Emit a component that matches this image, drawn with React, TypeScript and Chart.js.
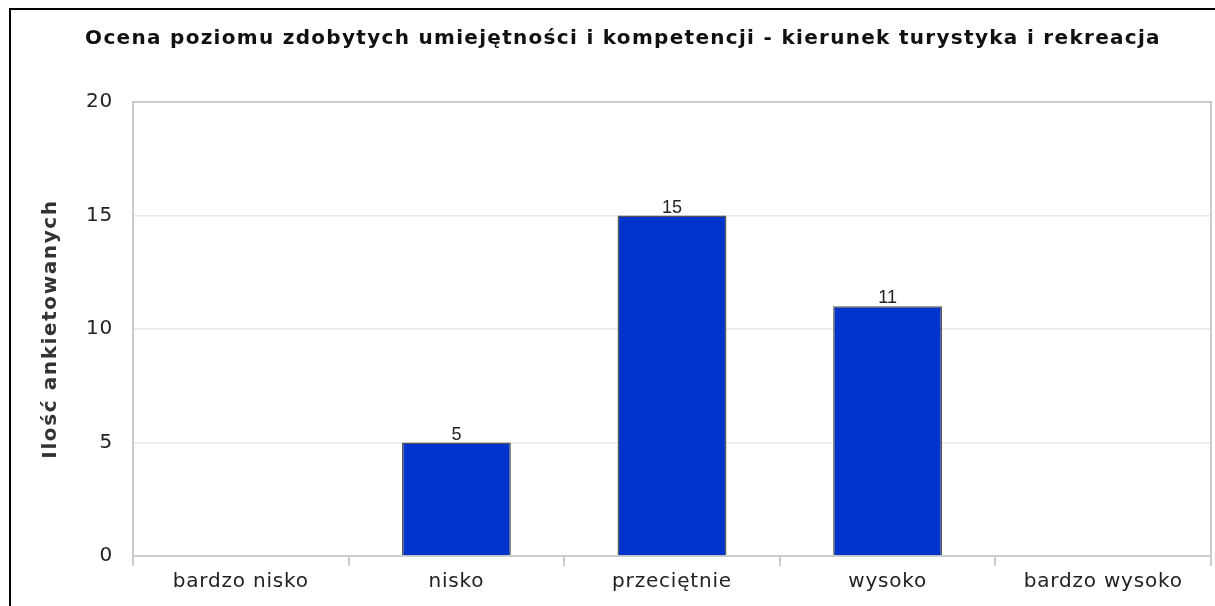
import { useEffect, useRef } from "react";
import { Chart, registerables } from "chart.js";

Chart.register(...registerables);

const chartTitle =
  "Ocena poziomu zdobytych umiejętności i kompetencji - kierunek turystyka i rekreacja";
const yAxisTitle = "Ilość ankietowanych";
const categories = ["bardzo nisko", "nisko", "przeciętnie", "wysoko", "bardzo wysoko"];
const counts = [0, 5, 15, 11, 0];
const yTicks = [0, 5, 10, 15, 20];

const CANVAS_W = 1204;
const CANVAS_H = 596;

const decorations = {
  id: "decorations",
  beforeDraw(chart: any) {
    chart.ctx.letterSpacing = "0.8px";
  },
  beforeDatasetsDraw(chart: any) {
    const { ctx, chartArea: a } = chart;
    ctx.save();
    ctx.strokeStyle = "#cccccc";
    ctx.lineWidth = 2;
    ctx.strokeRect(a.left, a.top, a.right - a.left, a.bottom - a.top);
    ctx.restore();
  },
  afterDraw(chart: any) {
    const { ctx, chartArea: a } = chart;
    ctx.save();
    // chart title
    ctx.letterSpacing = "1.3px";
    ctx.fillStyle = "#111111";
    ctx.font = "bold 20px 'DejaVu Sans'";
    ctx.textAlign = "center";
    ctx.textBaseline = "alphabetic";
    ctx.fillText(chartTitle, chart.width / 2 + 10, 33.5);
    // y axis title
    ctx.save();
    ctx.letterSpacing = "1.6px";
    ctx.font = "bold 20px 'DejaVu Sans'";
    ctx.fillStyle = "#333333";
    ctx.translate(40, (a.top + a.bottom) / 2);
    ctx.rotate(-Math.PI / 2);
    ctx.textBaseline = "middle";
    ctx.fillText(yAxisTitle, 0, 0);
    ctx.restore();
    // data labels
    ctx.letterSpacing = "0px";
    ctx.font = "18px 'Liberation Sans'";
    ctx.fillStyle = "#222222";
    ctx.textAlign = "center";
    ctx.textBaseline = "alphabetic";
    const meta = chart.getDatasetMeta(0);
    meta.data.forEach((bar: any, i: number) => {
      const v = counts[i];
      if (v > 0) ctx.fillText(String(v), bar.x, bar.y - 3);
    });
    ctx.restore();
  },
};

export default function App() {
  const ref = useRef<HTMLCanvasElement>(null);
  useEffect(() => {
    if (!ref.current) return;
    const chart = new Chart(ref.current, {
      type: "bar",
      data: {
        labels: categories,
        datasets: [
          {
            data: counts,
            backgroundColor: "#0033cc",
            borderColor: "#555555",
            borderWidth: 1.5,
            barPercentage: 1,
            categoryPercentage: 0.505,
          },
        ],
      },
      options: {
        responsive: false,
        animation: false,
        layout: { padding: { left: 0, right: 4, top: 92, bottom: 0 } },
        plugins: {
          legend: { display: false },
          title: { display: false },
          tooltip: { enabled: false },
        },
        scales: {
          x: {
            offset: true,
            grid: {
              offset: true,
              drawOnChartArea: false,
              drawTicks: true,
              tickLength: 10,
              color: "#cccccc",
              lineWidth: 2,
            },
            border: { display: true, color: "#cccccc", width: 2 },
            ticks: {
              font: { family: "'DejaVu Sans'", size: 20 },
              color: "#222222",
              padding: 4,
              maxRotation: 0,
              autoSkip: false,
            },
            afterFit(scale: any) {
              scale.height = 50;
            },
          },
          y: {
            min: yTicks[0],
            max: yTicks[yTicks.length - 1],
            ticks: {
              stepSize: yTicks[1] - yTicks[0],
              font: { family: "'DejaVu Sans'", size: 20 },
              color: "#222222",
              padding: 20,
            },
            grid: {
              drawTicks: false,
              color: "#e8e8e8",
              lineWidth: 1.5,
            },
            border: { display: true, color: "#cccccc", width: 2 },
            afterFit(scale: any) {
              scale.width = 122;
            },
          },
        },
      },
      plugins: [decorations],
    });
    return () => chart.destroy();
  }, []);

  return (
    <div
      style={{
        position: "fixed",
        left: 9,
        top: 8,
        width: CANVAS_W,
        height: CANVAS_H,
        borderTop: "2px solid #000",
        borderLeft: "2px solid #000",
        background: "#fff",
        overflow: "hidden",
      }}
    >
      <canvas ref={ref} width={CANVAS_W} height={CANVAS_H} style={{ display: "block" }} />
    </div>
  );
}
